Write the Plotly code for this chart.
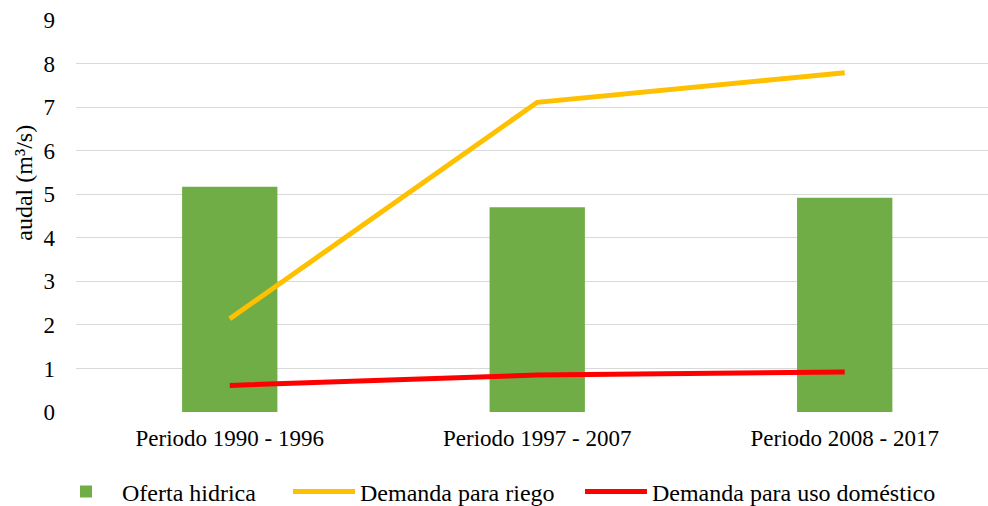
import plotly.graph_objects as go

periodos = ["Periodo 1990 - 1996", "Periodo 1997 - 2007", "Periodo 2008 - 2017"]
oferta = [5.17, 4.70, 4.92]
riego = [2.14, 7.11, 7.79]
domestico = [0.61, 0.85, 0.92]

x = list(range(len(periodos)))
fuente = "Liberation Serif, Times New Roman, serif"

fig = go.Figure()
fig.add_trace(go.Bar(x=x, y=oferta, name="Oferta hidrica", width=0.31, legend="legend",
                     marker=dict(color="#70AD47", line=dict(width=0))))
fig.add_trace(go.Scatter(x=x, y=riego, name="Demanda para riego", mode="lines", legend="legend2",
                         line=dict(color="#FFC000", width=5)))
fig.add_trace(go.Scatter(x=x, y=domestico, name="Demanda para uso doméstico", mode="lines",
                         legend="legend3", line=dict(color="#FF0000", width=5)))

# one legend box per series so each entry sits where the reference has it
def caja(xpos):
    return dict(orientation="h", x=xpos, xanchor="left", xref="container",
                y=0.028, yanchor="middle", yref="container",
                font=dict(size=24), itemwidth=62, bgcolor="rgba(0,0,0,0)")

fig.update_layout(
    width=988, height=506,
    margin=dict(l=76, r=0, t=20, b=94),
    plot_bgcolor="white", paper_bgcolor="white",
    font=dict(family=fuente, size=23, color="#000000"),
    showlegend=True,
    legend=caja(0.0506),
    legend2=caja(0.2915),
    legend3=caja(0.587),
)
fig.update_xaxes(tickvals=x, ticktext=periodos, range=[-0.5, 2.466],
                 showgrid=False, zeroline=False, showline=False, ticks="",
                 ticklabelstandoff=10)
fig.update_yaxes(range=[0, 9], dtick=1, showgrid=True, gridcolor="#D9D9D9", gridwidth=1,
                 zeroline=False, showline=False, ticks="", ticklabelstandoff=20)
fig.add_annotation(text="audal (m³/s)", textangle=-90, xref="paper", yref="paper",
                   x=-0.057, y=0.585, xanchor="center", yanchor="middle",
                   showarrow=False, font=dict(size=24))

fig.write_html("out.html", config={"displayModeBar": False},
               post_script="document.body.style.margin='0';")
